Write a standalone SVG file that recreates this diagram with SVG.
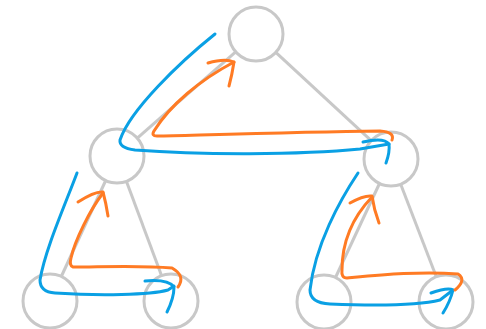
<svg xmlns="http://www.w3.org/2000/svg" width="486" height="329" viewBox="0 0 486 329">
<style>
.node{fill:none;stroke:#c8c8c8;stroke-width:3}
.edge{stroke:#c8c8c8;stroke-width:3;fill:none}
.blue{stroke:#0aa0e4;stroke-width:3;fill:none;stroke-linecap:round;stroke-linejoin:round}
.orange{stroke:#ff7b24;stroke-width:3;fill:none;stroke-linecap:round;stroke-linejoin:round}
</style>
<rect width="486" height="329" fill="#ffffff"/>
<g id="edges">
<line class="edge" x1="235.7" y1="51.8" x2="137.3" y2="138.2"/>
<line class="edge" x1="275.8" y1="52.3" x2="371.2" y2="140.7"/>
<line class="edge" x1="105.7" y1="180.5" x2="61.3" y2="276.5"/>
<line class="edge" x1="126.4" y1="181.3" x2="161.6" y2="275.7"/>
<line class="edge" x1="379.5" y1="183.5" x2="335.5" y2="277.5"/>
<line class="edge" x1="400.7" y1="184.2" x2="436.3" y2="276.8"/>
</g>
<g id="n-root"><circle class="node" cx="256" cy="34" r="27"/></g>
<g id="n-left"><circle class="node" cx="117" cy="156" r="27"/></g>
<g id="n-right"><circle class="node" cx="391" cy="159" r="27"/></g>
<g id="n-ll"><circle class="node" cx="50" cy="301" r="27"/></g>
<g id="n-lr"><circle class="node" cx="171" cy="301" r="27"/></g>
<g id="n-rl"><circle class="node" cx="324" cy="302" r="27"/></g>
<g id="n-rr"><circle class="node" cx="446" cy="302" r="27"/></g>
<g id="arrows">
<path class="blue" d="M215,34 C180,62 130,110 120,140 Q119,148 135,150 C200,155 300,155 360,149 L389,144"/>
<path class="blue" d="M363,142 Q384,137 389,144 Q390,152 386,163"/>
<path class="orange" d="M392,140 Q395,132 380,131 C300,132 200,135 157,136 Q151,136 154,131 C170,105 200,80 234,62"/>
<path class="orange" d="M208,63 Q225,58 234,62 Q232,75 229,86"/>
<path class="blue" d="M77,173 C65,205 45,250 40,280 Q40,292 55,293 C100,296 150,295 168,290 L174,286"/>
<path class="blue" d="M145,281 Q168,279 174,287 Q174,298 167,312"/>
<path class="orange" d="M178,287 Q186,276 172,268 C140,265 100,267 73,267 Q69,266 71,258 C75,240 90,210 103,193"/>
<path class="orange" d="M78,202 Q95,191 103,192 Q106,203 108,216"/>
<path class="blue" d="M358,173 C340,200 315,245 310,290 Q310,303 330,304 C380,306 420,305 440,300 L453,290"/>
<path class="blue" d="M431,293 Q448,287 453,290 Q450,302 443,313"/>
<path class="orange" d="M455,290 Q467,280 458,274 C420,271 380,275 347,278 Q341,278 342,270 C342,245 350,220 372,197"/>
<path class="orange" d="M350,203 Q364,195 372,196 Q374,210 379,223"/>
</g>
</svg>
